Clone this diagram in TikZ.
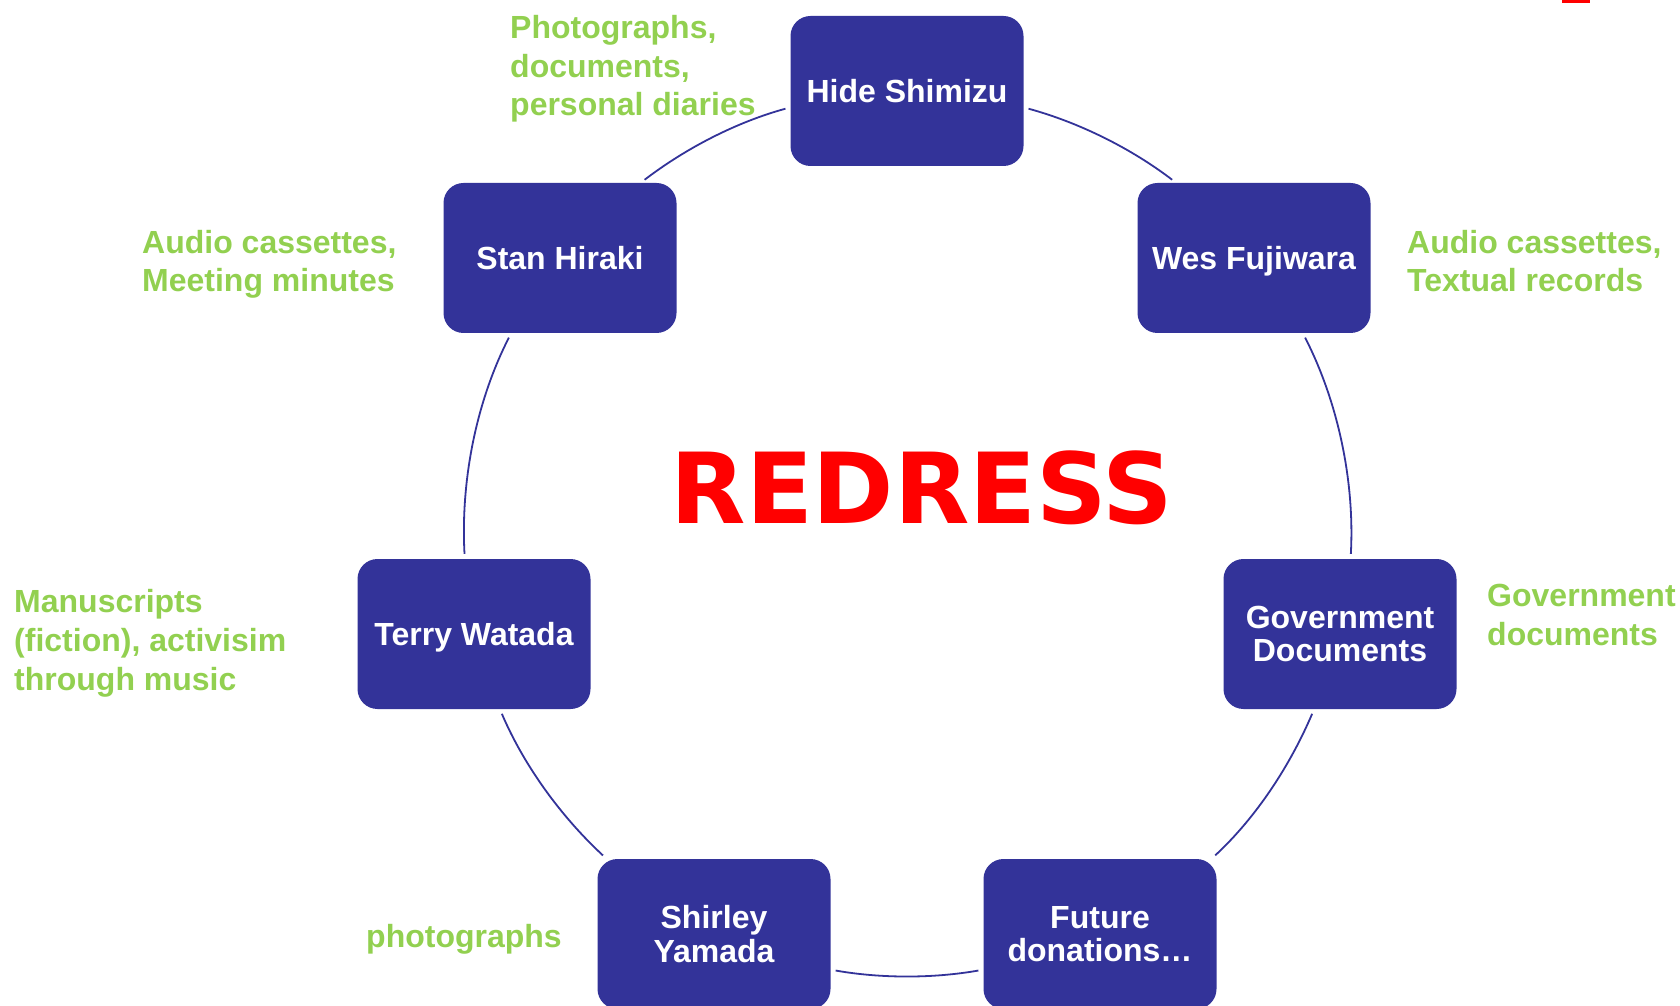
\documentclass[tikz,border=0pt]{standalone}
\usepackage{fontspec}
\setmainfont{Liberation Sans}
\newfontfamily\titlefont{DejaVu Sans}
\definecolor{boxblue}{RGB}{51,51,153}
\definecolor{notegreen}{RGB}{146,208,80}
\definecolor{titlered}{RGB}{255,0,0}

\begin{document}
\begin{tikzpicture}[x=1pt,y=1pt]
\useasboundingbox (0,0) rectangle (1680,1005);
% \draw[gray!30] (0,0) grid[step=100] (1680,1005);
% \draw[red] (907,470) circle (443);
\begin{scope}[every node/.style={rectangle, rounded corners=20pt, fill=boxblue, text=white, minimum width=233pt, minimum height=150pt, inner sep=0pt, align=center, font=\fontsize{32}{33.5}\selectfont\bfseries}]
    % seven boxes round the ring (r = 443), clockwise from the top
    \node (hide) at (907,914) {Hide Shimizu};
    \node[text depth=0pt] (wes) at (1254,747) {Wes Fujiwara};
    \node (gov) at (1340,371) {Government\\Documents};
    \node (fut) at (1100,71) {Future\\donations…};
    \node (shir) at (714,71) {Shirley\\Yamada};
    \node[text depth=0pt] (terry) at (474,371) {Terry Watada};
    \node (stan) at (560,747) {Stan Hiraki};
\end{scope}
\begin{scope}[ring/.style={draw=boxblue, line width=1.8pt, looseness=0.86, shorten <=5pt, shorten >=5pt}]
    % anchors where the ring meets each box, and the ring's tangent there
    \foreach \from/\fa/\to/\ta/\o/\i in {hide/-8.11/wes/136.1/-15.25/142.6, wes/-57.8/gov/82.9/-62.9/86.9, gov/251.1/fut/34.8/-113.1/42.8, fut/197.3/shir/-17.3/-170.05/-9.95, shir/145.2/terry/-71.1/137.2/293.1, terry/97.1/stan/237.8/93.1/242.9, stan/43.9/hide/188.11/37.4/195.25}
        \draw [ring] (\from.\fa) to[out=\o, in=\i] (\to.\ta);
\end{scope}
\begin{scope}[every node/.style={text=notegreen, anchor=base west, inner sep=0pt, align=left, font=\fontsize{32}{38.6}\selectfont\bfseries}]
    \node (hidel) at (510,889) {Photographs,\\documents,\\personal diaries};
    \node (stanl) at (142,713) {Audio cassettes,\\Meeting minutes};
    \node (wesl) at (1407,713) {Audio cassettes,\\Textual records};
    \node (terryl) at (14,315) {Manuscripts\\(fiction), activisim\\through music};
    \node (govl) at (1487,360) {Government\\documents};
    \node (shirl) at (366,58) {photographs};
\end{scope}
    \node[text=titlered, anchor=base, inner sep=0pt, font=\titlefont\fontsize{98}{100}\selectfont\bfseries] (redress) at (922,482) {REDRESS};
    % cut-off red mark, top right
    \fill[titlered] (1562,1005) rectangle (1590,1002);
\end{tikzpicture}
\end{document}
